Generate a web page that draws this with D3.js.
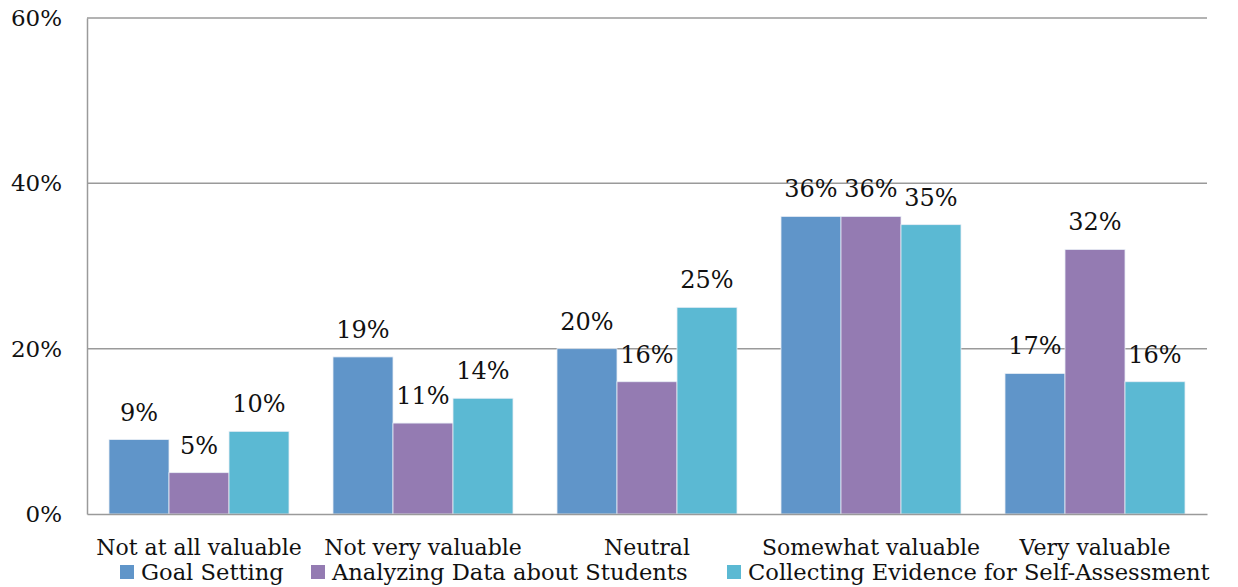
<!DOCTYPE html>
<html><head><meta charset="utf-8">
<script src="https://cdn.jsdelivr.net/npm/d3@7"></script>
<style>body{margin:0;background:#fff}svg{display:block}text{font-family:"DejaVu Serif",serif;fill:#111}</style>
</head><body>
<svg id="c" width="1238" height="587"></svg>
<script>
const categories = ["Not at all valuable","Not very valuable","Neutral","Somewhat valuable","Very valuable"];
const seriesNames = ["Goal Setting","Analyzing Data about Students","Collecting Evidence for Self-Assessment"];
const goalSetting = [9,19,20,36,17];
const analyzingData = [5,11,16,36,32];
const collectingEvidence = [10,14,25,35,16];
const yTicks = [0,20,40,60];
const colors = ["#6095C9","#947BB2","#5BB9D3"];

const series = [goalSetting, analyzingData, collectingEvidence];
const svg = d3.select("#c");
const L = 87, R = 1207, T = 18, B = 514;
const x0 = d3.scaleBand().domain(categories).range([L,R]).paddingInner(44/224).paddingOuter(22/224);
const x1 = d3.scaleBand().domain(d3.range(3)).range([0,x0.bandwidth()]);
const y = d3.scaleLinear().domain([0,60]).range([B,T]);

// gridlines
svg.append("g").selectAll("line").data(yTicks.filter(d=>d>0)).join("line")
  .attr("x1",L).attr("x2",R).attr("y1",d=>y(d)).attr("y2",d=>y(d))
  .attr("stroke","#9a9a9a").attr("stroke-width",1.5);

// bars
const g = svg.append("g");
categories.forEach((c,ci)=>{
  series.forEach((s,si)=>{
    g.append("rect").attr("x",x0(c)+x1(si)).attr("y",y(s[ci]))
      .attr("width",x1.bandwidth()).attr("height",B-y(s[ci]))
      .attr("fill",colors[si]).attr("stroke","#e8eef6").attr("stroke-width",0.8);
    g.append("text").attr("x",x0(c)+x1(si)+x1.bandwidth()/2).attr("y",y(s[ci])-19)
      .attr("text-anchor","middle").attr("font-size",24).text(s[ci]+"%");
  });
});

// axes
const yAxis = d3.axisLeft(y).tickValues(yTicks).tickFormat(d=>d+"%").tickSize(0).tickPadding(25);
const ya = svg.append("g").attr("transform",`translate(${L},0)`).call(yAxis);
ya.select(".domain").attr("stroke","#9a9a9a").attr("stroke-width",1.5);
ya.selectAll("text").attr("font-size",23).attr("font-family","DejaVu Serif").attr("fill","#111");

const xAxis = d3.axisBottom(x0).tickSize(0);
const xa = svg.append("g").attr("transform",`translate(0,${B})`).call(xAxis);
xa.select(".domain").attr("stroke","#9a9a9a").attr("stroke-width",1.5);
xa.selectAll("text").attr("font-size",22).attr("font-family","DejaVu Serif").attr("fill","#111")
  .attr("dy",null).attr("y",41);

// legend
const legX = [120,311,727];
const lg = svg.append("g");
seriesNames.forEach((n,i)=>{
  lg.append("rect").attr("x",legX[i]).attr("y",565).attr("width",14).attr("height",14).attr("fill",colors[i]);
  lg.append("text").attr("x",legX[i]+21).attr("y",580).attr("font-size",22.6).text(n);
});
</script>
</body></html>
